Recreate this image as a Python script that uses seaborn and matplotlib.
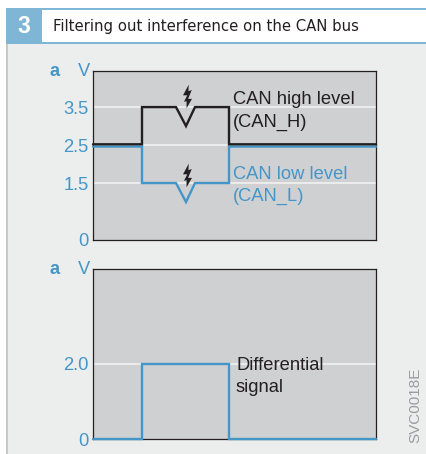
import matplotlib
matplotlib.use("Agg")
import matplotlib.pyplot as plt
from matplotlib.path import Path
from matplotlib.patches import Rectangle
import pandas as pd
import seaborn as sns

# ---- data ----
time_h = [0, 49, 49, 83, 93, 102, 136, 136, 283]
can_high = [2.52, 2.52, 3.5, 3.5, 3.0, 3.5, 3.5, 2.52, 2.52]
time_l = [0, 49, 49, 83, 93, 102, 136, 136, 283]
can_low = [2.46, 2.46, 1.5, 1.5, 1.0, 1.5, 1.5, 2.46, 2.46]
time_d = [0, 49, 49, 136, 136, 283]
diff_signal = [0, 0, 2.0, 2.0, 0, 0]
ticks_a = [0, 1.5, 2.5, 3.5]
tick_labels_a = ["0", "1.5", "2.5", "3.5"]
ticks_b = [0, 2.0]
tick_labels_b = ["0", "2.0"]
bolt_x = [94, 94]
bolt_y = [3.79, 1.72]
title = "Filtering out interference on the CAN bus"

BLUE = "#4596C8"
HEAD = "#7FB6D6"
DARK = "#231F20"
PANEL = "#CFD0D2"
BG = "#ECEDED"
FS = 13.2

sns.set_theme(style="white")
plt.rcParams["font.family"] = ["Liberation Sans", "DejaVu Sans"]

W, H = 426, 454
fig = plt.figure(figsize=(W / 100, H / 100), dpi=100, facecolor="white")


def fx(px):
    return px / W


def fy(py):
    return 1 - py / H


# page furniture
fig.patches.append(Rectangle((fx(6), 0), 1 - fx(6), fy(44), transform=fig.transFigure,
                             facecolor=BG, edgecolor="none", zorder=-5))
fig.patches.append(Rectangle((fx(6), 0), 2.2 / W, fy(44), transform=fig.transFigure,
                             facecolor="#C6C8CA", edgecolor="none", zorder=-4))
fig.patches.append(Rectangle((fx(6), fy(43.5)), fx(36), 35 / H, transform=fig.transFigure,
                             facecolor=HEAD, edgecolor="none", zorder=-4))
fig.patches.append(Rectangle((fx(6), fy(10)), 1 - fx(6), 2 / H, transform=fig.transFigure,
                             facecolor=HEAD, edgecolor="none", zorder=-4))
fig.patches.append(Rectangle((fx(6), fy(44)), 1 - fx(6), 2 / H, transform=fig.transFigure,
                             facecolor=HEAD, edgecolor="none", zorder=-4))
fig.text(fx(24), fy(26.5), "3", color="white", fontsize=16.5, fontweight="bold",
         ha="center", va="center")
fig.text(fx(53), fy(27), title, color=DARK, fontsize=10.75, ha="left", va="center",
         family="DejaVu Sans")

bolt = Path([(0.1, 1.0), (-0.38, 0.1), (-0.02, 0.1), (-0.3, -0.45), (-0.08, -0.4),
             (-0.08, -1.0), (0.38, -0.2), (0.05, -0.2), (0.36, 0.55), (0.08, 0.45), (0.1, 1.0)],
            closed=True)


def make_axes(top, bottom, ymax, ticks, labels):
    ax = fig.add_axes([fx(93), fy(bottom), fx(283), (bottom - top) / H])
    ax.set_facecolor(PANEL)
    ax.set_xlim(0, 283)
    ax.set_ylim(0, ymax)
    ax.set_xticks([])
    ax.set_yticks(ticks, labels, color=BLUE, fontsize=FS)
    ax.tick_params(axis="y", length=0, pad=3)
    for s in ax.spines.values():
        s.set_color(DARK)
        s.set_linewidth(0.9)
    for t in ticks:
        if t > 0:
            ax.axhline(t, color="#F4F4F4", lw=1.1, zorder=1)
    return ax


ax1 = make_axes(71, 240, 4.45, ticks_a, tick_labels_a)
df_l = pd.DataFrame({"t": time_l, "v": can_low})
df_h = pd.DataFrame({"t": time_h, "v": can_high})
sns.lineplot(data=df_l, x="t", y="v", sort=False, estimator=None, color=BLUE, lw=1.7,
             ax=ax1, zorder=3, solid_joinstyle="miter", clip_on=False)
sns.lineplot(data=df_h, x="t", y="v", sort=False, estimator=None, color=DARK, lw=1.7,
             ax=ax1, zorder=4, solid_joinstyle="miter", clip_on=False)
ax1.set_xlabel("")
ax1.set_ylabel("")
ax1.plot(bolt_x, bolt_y, ls="none", marker=bolt, ms=17, color=DARK, mew=0, zorder=5)
ax1.text(140, 3.70, "CAN high level", color=DARK, fontsize=FS, va="center")
ax1.text(140, 3.10, "(CAN_H)", color=DARK, fontsize=FS, va="center")
ax1.text(140, 1.73, "CAN low level", color=BLUE, fontsize=FS, va="center")
ax1.text(140, 1.14, "(CAN_L)", color=BLUE, fontsize=FS, va="center")

ax2 = make_axes(269, 439, 4.53, ticks_b, tick_labels_b)
df_d = pd.DataFrame({"t": time_d, "v": diff_signal})
sns.lineplot(data=df_d, x="t", y="v", sort=False, estimator=None, color=BLUE, lw=1.7,
             ax=ax2, zorder=3, solid_joinstyle="miter", clip_on=False)
ax2.set_xlabel("")
ax2.set_ylabel("")
ax2.text(143, 1.95, "Differential", color=DARK, fontsize=FS, va="center")
ax2.text(143, 1.38, "signal", color=DARK, fontsize=FS, va="center")

for py in (71, 269):
    fig.text(fx(50), fy(py), "a", color=BLUE, fontsize=FS, fontweight="bold",
             ha="left", va="center")
    fig.text(fx(90), fy(py), "V", color=BLUE, fontsize=FS, ha="right", va="center")

fig.text(fx(415), fy(405), "SVC0018E", color="#9A9C9E", fontsize=11, rotation=90,
         ha="center", va="center")

fig.savefig("out.png", dpi=100, facecolor="white")
